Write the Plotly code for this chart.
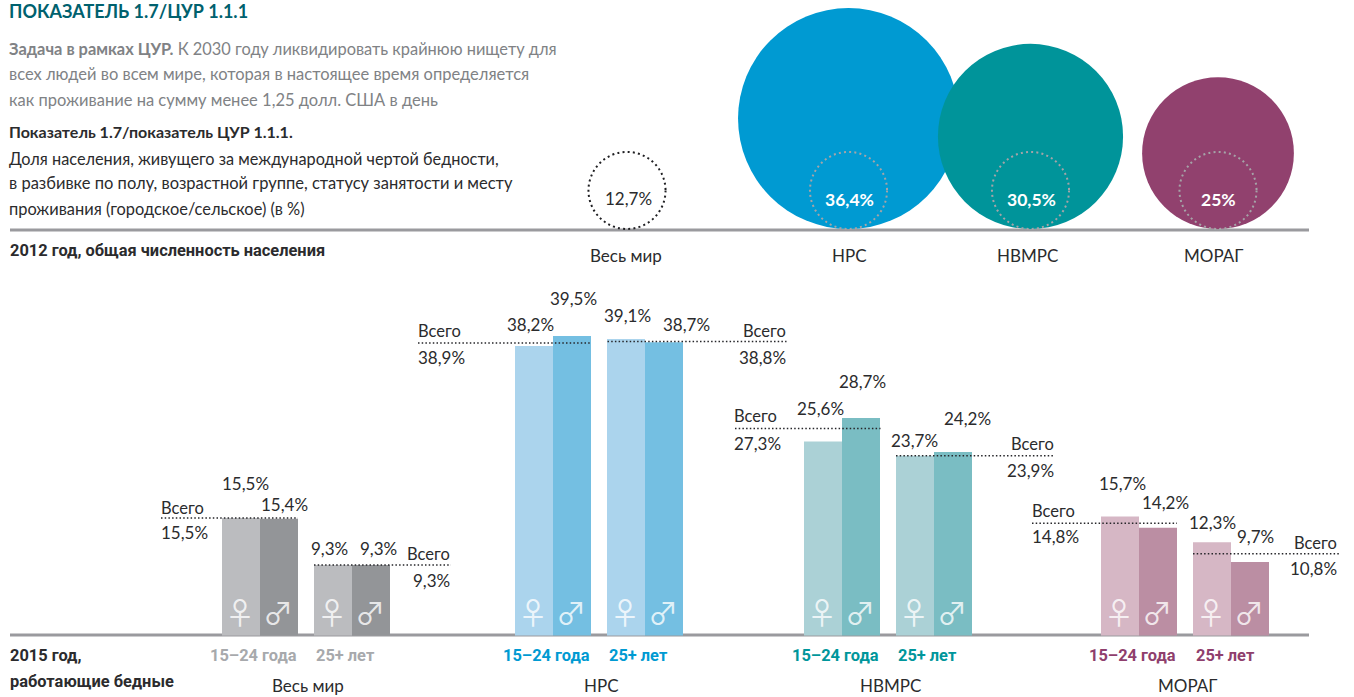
import plotly.graph_objects as go

# ---------- data ----------
regions = ["Весь мир", "НРС", "НВМРС", "МОРАГ"]
poverty_2012 = [12.7, 36.4, 30.5, 25]
young_women = [15.5, 38.2, 25.6, 15.7]
young_men = [15.4, 39.5, 28.7, 14.2]
adult_women = [9.3, 39.1, 23.7, 12.3]
adult_men = [9.3, 38.7, 24.2, 9.7]
young_total = [15.5, 38.9, 27.3, 14.8]
adult_total = [9.3, 38.8, 23.9, 10.8]
# heights at which the dotted lines are actually drawn in the picture
young_line = [15.5, 38.6, 27.3, 14.8]
adult_line = [9.3, 38.8, 23.7, 10.8]
age_labels = ["15–24 года", "25+ лет"]

# ---------- layout constants (pixels) ----------
W, H = 1354, 697
BASE_PX = 635.5
PX_PER_UNIT = 7.58
BUBBLE_SCALE = 6.07
BUBBLE_BOTTOM = 229
BUBBLE_X = [627, 848.5, 1030.5, 1218]
GROUP_X = [222, 515, 804, 1101]
BAR_W = 38
AGE_GAP = 16
FONT = "Lato"
BOLD = "Roboto"
INK = "#2b2b2d"
GREY = "#808285"
MAIN = ["#a7a9ac", "#009ad2", "#00969b", "#8f3f6d"]
BUBBLE_COL = ["#ffffff", "#009ad2", "#00949a", "#91416e"]
F_COL = ["#bbbcbf", "#abd4ed", "#abd1d6", "#d6b7c5"]
M_COL = ["#939598", "#74bfe2", "#7abdc3", "#bb8ea3"]


def fmt(v):
    s = f"{v:.1f}" if v != int(v) else str(int(v))
    return s.replace(".", ",") + "%"


anns = []


def text(x, y, s, size=17, color=INK, anchor="center", family=FONT):
    anns.append(dict(x=x, y=y, xref="x", yref="y2", text=s, showarrow=False,
                     xanchor=anchor, yanchor="middle",
                     font=dict(family=family, size=size, color=color), borderpad=0, borderwidth=0))


fig = go.Figure()

# bars
c_yw = [g + BAR_W / 2 for g in GROUP_X]
c_ym = [g + BAR_W * 3 / 2 for g in GROUP_X]
c_aw = [g + BAR_W * 2 + AGE_GAP + BAR_W / 2 for g in GROUP_X]
c_am = [g + BAR_W * 3 + AGE_GAP + BAR_W / 2 for g in GROUP_X]
for xs, ys, cols in [(c_yw, young_women, F_COL), (c_ym, young_men, M_COL),
                     (c_aw, adult_women, F_COL), (c_am, adult_men, M_COL)]:
    fig.add_trace(go.Bar(x=xs, y=ys, width=BAR_W, marker=dict(color=cols, line_width=0),
                         xaxis="x", yaxis="y", hoverinfo="skip"))

# dotted total lines
young_ext = [(161, 298), (418, 591.5), (735, 880.5), (1032, 1177)]
adult_ext = [(314, 451), (607.5, 786.5), (896, 1054), (1193, 1340)]
for ext, vals in [(young_ext, young_line), (adult_ext, adult_line)]:
    for (a, b), v in zip(ext, vals):
        fig.add_trace(go.Scatter(x=[a, b], y=[v, v], mode="lines", xaxis="x", yaxis="y",
                                 line=dict(color="#26262a", width=1.5, dash="1.5px,2.2px"),
                                 hoverinfo="skip"))

# 2012 bubbles
fig.add_trace(go.Scatter(
    x=BUBBLE_X[1:], y=[BUBBLE_BOTTOM - v * BUBBLE_SCALE / 2 for v in poverty_2012[1:]],
    mode="markers", xaxis="x", yaxis="y2", hoverinfo="skip",
    marker=dict(size=[v * BUBBLE_SCALE for v in poverty_2012[1:]], sizemode="diameter",
                color=BUBBLE_COL[1:], opacity=1, line_width=0)))

# shapes: baselines and dotted world-level circles
shapes = []
for py in (230, 635):
    shapes.append(dict(type="line", xref="x", yref="y2", x0=10, x1=1309, y0=py, y1=py,
                       line=dict(color="#9a9a9e", width=3), layer="below"))
r = poverty_2012[0] * BUBBLE_SCALE / 2
for i, cx in enumerate(BUBBLE_X):
    shapes.append(dict(type="circle", xref="x", yref="y2", x0=cx - r, x1=cx + r,
                       y0=BUBBLE_BOTTOM - 2 * r, y1=BUBBLE_BOTTOM,
                       line=dict(color="#1f1f22" if i == 0 else "#a5a4a8", width=2,
                                 dash="2px,3.2px")))

# ---------- text ----------
text(9, 11, "<b>ПОКАЗАТЕЛЬ 1.7/ЦУР 1.1.1</b>", 18, "#00616e", "left")
text(9, 48, "<b>Задача в рамках ЦУР.</b> К 2030 году ликвидировать крайнюю нищету для", 16.4, GREY, "left")
text(9, 74, "всех людей во всем мире, которая в настоящее время определяется", 16.5, GREY, "left")
text(9, 100, "как проживание на сумму менее 1,25 долл. США в день", 16.5, GREY, "left")
text(9, 131, "<b>Показатель 1.7/показатель ЦУР 1.1.1.</b>", 16, INK, "left")
text(9, 158, "Доля населения, живущего за международной чертой бедности,", 16.3, INK, "left")
text(9, 183, "в разбивке по полу, возрастной группе, статусу занятости и месту", 16.5, INK, "left")
text(9, 208, "проживания (городское/сельское) (в %)", 16.4, INK, "left")
text(10, 250, "<b>2012 год, общая численность населения</b>", 16.4, INK, "left", BOLD)
text(10, 655, "<b>2015 год,</b>", 16.4, INK, "left", BOLD)
text(10, 681, "<b>работающие бедные</b>", 16.4, INK, "left", BOLD)

# bubble values and names
text(628, 198, fmt(poverty_2012[0]), 17)
for cx, v in zip(BUBBLE_X[1:], poverty_2012[1:]):
    text(cx + 0.5, 199, f"<b>{fmt(v)}</b>", 17.5, "#ffffff")
for cx, name in zip([626, 849, 1027, 1213], regions):
    text(cx, 255, name, 17)

# bar labels
pos_yw = [(245, 483), (530, 324), (820, 408), (1122, 483)]
pos_ym = [(284, 504), (573, 298), (862, 381), (1165, 502)]
pos_aw = [(329, 548), (627, 315), (914, 440), (1212, 522)]
pos_am = [(378, 548), (686, 324), (967, 418), (1255, 536)]
for pos, vals in [(pos_yw, young_women), (pos_ym, young_men), (pos_aw, adult_women), (pos_am, adult_men)]:
    for (x, y), v in zip(pos, vals):
        text(x, y, fmt(v), 17)

# "Всего" labels
left_tot = [(161, 508, 532), (418, 331, 357), (734, 416, 443), (1032, 511, 536)]
right_tot = [(450, 554, 580), (786, 331, 357), (1054, 444, 470), (1337, 543, 568)]
for (x, y1, y2), v in zip(left_tot, young_total):
    text(x, y1, "Всего", 16.5, INK, "left")
    text(x, y2, fmt(v), 17, INK, "left")
for (x, y1, y2), v in zip(right_tot, adult_total):
    text(x, y1, "Всего", 16.5, INK, "right")
    text(x, y2, fmt(v), 17, INK, "right")

# gender symbols
for xs, sym in [(c_yw, "♀"), (c_ym, "♂"), (c_aw, "♀"), (c_am, "♂")]:
    for x in xs:
        text(x - 1, 611, sym, 30, "rgba(255,255,255,0.8)", "center", "Noto Sans CJK JP")

# axis labels
for i, (cy, ca, cn, name) in enumerate(zip([253, 546, 835, 1132], [345, 638, 927, 1225],
                                           [308, 601, 890, 1187], regions)):
    text(cy, 655, f"<b>{age_labels[0]}</b>", 16.4, MAIN[i], "center", BOLD)
    text(ca, 655, f"<b>{age_labels[1]}</b>", 16.4, MAIN[i], "center", BOLD)
    text(cn, 685, name, 17)

fig.update_layout(
    width=W, height=H, margin=dict(l=0, r=0, t=0, b=0, pad=0),
    paper_bgcolor="white", plot_bgcolor="white", showlegend=False, barmode="overlay",
    xaxis=dict(range=[0, W], visible=False, fixedrange=True),
    yaxis=dict(range=[(BASE_PX - H) / PX_PER_UNIT, BASE_PX / PX_PER_UNIT], visible=False, fixedrange=True),
    yaxis2=dict(range=[H, 0], visible=False, overlaying="y", fixedrange=True),
    shapes=shapes, annotations=anns,
)
fig.write_html("out.html", config={"displayModeBar": False},
               post_script="document.body.style.margin='0';document.body.style.overflow='hidden';")
